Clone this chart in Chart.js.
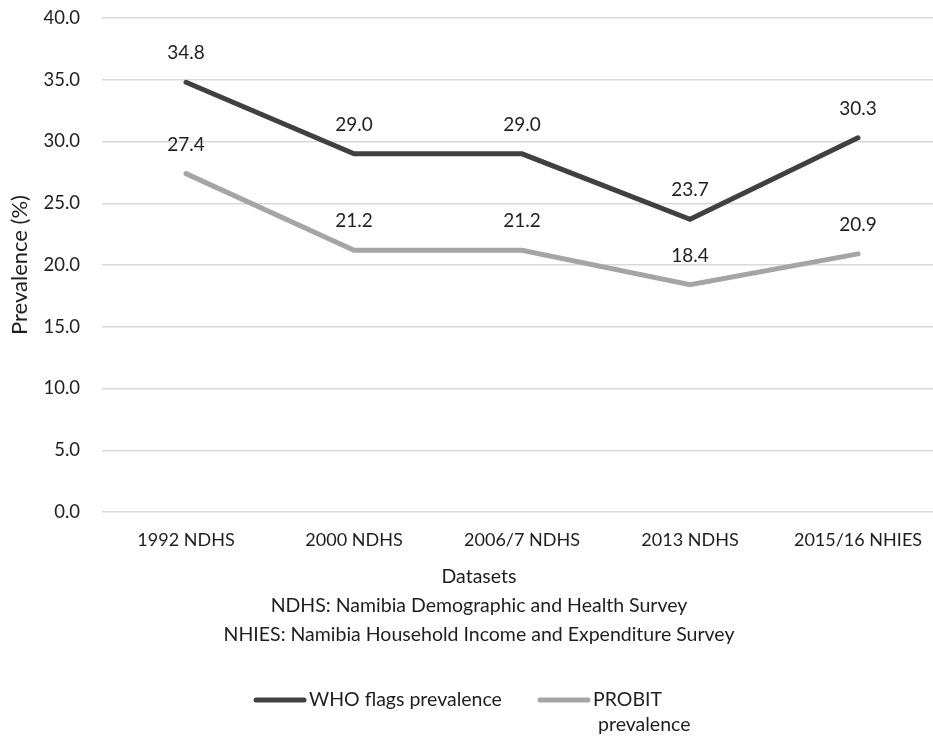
<!DOCTYPE html>
<html>
<head>
<meta charset="utf-8">
<script src="https://cdn.jsdelivr.net/npm/chart.js@4/dist/chart.umd.min.js"></script>
<style>
  html, body { margin: 0; padding: 0; background: #fff; overflow: hidden; }
  #wrap { width: 960px; height: 738px; }
</style>
</head>
<body>
<div id="wrap"><canvas id="c" width="960" height="738"></canvas></div>
<script>
// Survey datasets (x categories)
const categories = ['1992 NDHS', '2000 NDHS', '2006/7 NDHS', '2013 NDHS', '2015/16 NHIES'];
// Prevalence (%) by method
const whoFlags = [34.8, 29.0, 29.0, 23.7, 30.3];
const probit = [27.4, 21.2, 21.2, 18.4, 20.9];
// Axis range / tick step
const yMin = 0, yMax = 40, yStep = 5;
// Axis and footnote texts
const yTitle = 'Prevalence (%)';
const xTitleLines = ['Datasets', 'NDHS: Namibia Demographic and Health Survey', 'NHIES: Namibia Household Income and Expenditure Survey'];

const FONT = "Lato, 'Open Sans', sans-serif";
const TEXT = '#1e1e1e';

// Value labels above each point
const valueLabels = {
  id: 'valueLabels',
  afterDatasetsDraw(chart) {
    const ctx = chart.ctx;
    ctx.save();
    ctx.font = '19px ' + FONT;
    ctx.fillStyle = TEXT;
    ctx.textAlign = 'center';
    ctx.textBaseline = 'middle';
    chart.data.datasets.forEach((ds, i) => {
      chart.getDatasetMeta(i).data.forEach((pt, j) => {
        ctx.fillText(ds.data[j].toFixed(1), pt.x, pt.y - 29);
      });
    });
    ctx.restore();
  }
};

// Multi-line x axis title and footnotes
const xFootTitle = {
  id: 'xFootTitle',
  afterDraw(chart) {
    const ctx = chart.ctx;
    ctx.save();
    ctx.font = '19.5px ' + FONT;
    ctx.fillStyle = TEXT;
    ctx.textAlign = 'center';
    ctx.textBaseline = 'middle';
    const cx = 479;
    xTitleLines.forEach((t, i) => ctx.fillText(t, cx, 577 + i * 29));
    ctx.restore();
  }
};

// Bottom legend with wrapped entries
const bottomLegend = {
  id: 'bottomLegend',
  afterDraw(chart) {
    const ctx = chart.ctx;
    const starts = [254, 538];
    const wrapAt = [300, 90];
    ctx.save();
    ctx.font = '19.5px ' + FONT;
    ctx.textBaseline = 'middle';
    ctx.textAlign = 'left';
    chart.data.datasets.forEach((ds, i) => {
      const x0 = starts[i], y0 = 700;
      ctx.strokeStyle = ds.borderColor;
      ctx.lineWidth = 5;
      ctx.lineCap = 'round';
      ctx.beginPath();
      ctx.moveTo(x0 + 2, y0);
      ctx.lineTo(x0 + 50, y0);
      ctx.stroke();
      // wrap words
      const words = ds.label.split(' ');
      const lines = [];
      let cur = '';
      words.forEach(w => {
        const test = cur ? cur + ' ' + w : w;
        if (cur && ctx.measureText(test).width > wrapAt[i]) { lines.push(cur); cur = w; }
        else cur = test;
      });
      lines.push(cur);
      ctx.fillStyle = TEXT;
      lines.forEach((l, k) => ctx.fillText(l, x0 + 55 + (k > 0 ? 5 : 0), y0 + k * 25));
    });
    ctx.restore();
  }
};

new Chart(document.getElementById('c'), {
  type: 'line',
  data: {
    labels: categories,
    datasets: [
      { label: 'WHO flags prevalence', data: whoFlags, borderColor: '#404040', backgroundColor: '#404040',
        borderWidth: 5, pointRadius: 0, tension: 0, borderCapStyle: 'round', borderJoinStyle: 'miter' },
      { label: 'PROBIT prevalence', data: probit, borderColor: '#a5a5a5', backgroundColor: '#a5a5a5',
        borderWidth: 5, pointRadius: 0, tension: 0, borderCapStyle: 'round', borderJoinStyle: 'miter' }
    ]
  },
  options: {
    responsive: false,
    animation: false,
    layout: { padding: { left: 0, top: 18, right: 18, bottom: 0 } },
    plugins: { legend: { display: false }, tooltip: { enabled: false } },
    scales: {
      x: {
        offset: true,
        grid: { display: false, drawTicks: false },
        border: { display: false },
        ticks: { color: TEXT, font: { family: FONT, size: 18 }, padding: 17, maxRotation: 0, autoSkip: false },
        afterFit(scale) { scale.height = 738 - 512; }
      },
      y: {
        min: yMin, max: yMax,
        grid: { color: '#d9d9d9', lineWidth: 1.5, drawTicks: false },
        border: { display: false },
        ticks: { stepSize: yStep, color: TEXT, font: { family: FONT, size: 18.5 }, padding: 22,
          callback: v => Number(v).toFixed(1) },
        title: { display: true, text: yTitle, color: TEXT, font: { family: FONT, size: 22 }, padding: { top: 7, bottom: 0 } },
        afterFit(scale) {
          scale.width = 102;
          scale.paddingTop = 0;
          scale.paddingBottom = 0;
        }
      }
    }
  },
  plugins: [valueLabels, xFootTitle, bottomLegend]
});
</script>
</body>
</html>
